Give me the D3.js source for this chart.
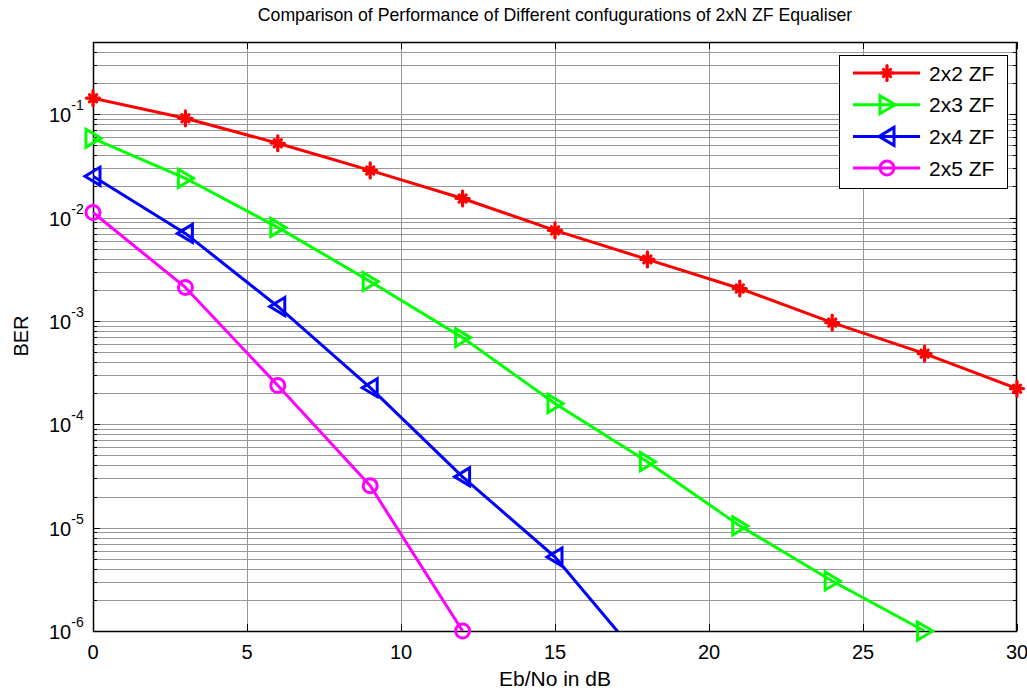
<!DOCTYPE html>
<html>
<head>
<meta charset="utf-8">
<script src="https://cdn.jsdelivr.net/npm/d3@7"></script>
<style>
  html, body { margin: 0; padding: 0; background: #fff; }
  svg { display: block; font-family: Arial, "Liberation Sans", Helvetica, sans-serif; }
</style>
</head>
<body>
<svg id="chart" width="1027" height="691"></svg>
<script>
// Eb/No sweep (dB)
const ebno = [0, 3, 6, 9, 12, 15, 18, 21, 24, 27, 30];

// Simulated bit error rates for each 2xN zero-forcing configuration (0 = no errors counted)
const ber2x2 = [0.143, 0.0914, 0.0524, 0.0286, 0.0153, 0.00752, 0.00394, 0.00206, 0.000964, 0.000483, 0.000221];
const ber2x3 = [0.0585, 0.0240, 0.00804, 0.00241, 0.00069, 0.000159, 4.35e-5, 1.04e-5, 3.05e-6, 1.0e-6, 0];
const ber2x4 = [0.0251, 0.00703, 0.00138, 0.000226, 3.10e-5, 5.2e-6, 4.5e-7, 0, 0, 0, 0];
const ber2x5 = [0.0112, 0.00211, 0.000237, 2.54e-5, 1.0e-6, 0, 0, 0, 0, 0, 0];

const seriesNames = ["2x2 ZF", "2x3 ZF", "2x4 ZF", "2x5 ZF"];
const seriesColors = ["#ff0000", "#00ff00", "#0000ff", "#ff00ff"];
const seriesMarkers = ["star", "triRight", "triLeft", "circle"];

// Axis settings
const xTicks = [0, 5, 10, 15, 20, 25, 30];
const yTickExps = [-6, -5, -4, -3, -2, -1];
const xDomain = [0, 30];
const yDomain = [1e-6, 0.5];

const titleText = "Comparison of Performance of Different confugurations of 2xN ZF Equaliser";
const xLabelText = "Eb/No in dB";
const yLabelText = "BER";

const svg = d3.select("#chart");
const m = { left: 93, right: 1017, top: 42, bottom: 631 };

const x = d3.scaleLinear().domain(xDomain).range([m.left, m.right]);
const y = d3.scaleLog().domain(yDomain).range([m.bottom, m.top]);

// Grid: minor + major log lines horizontally, major lines vertically
const gridVals = [];
for (let e = -6; e <= 0; e++) {
  for (let k = 1; k <= 9; k++) {
    const v = k * Math.pow(10, e);
    if (v >= yDomain[0] * 0.999 && v <= yDomain[1] * 1.001) gridVals.push({ v, major: k === 1 });
  }
}
const gridColor = "#979797";
const grid = svg.append("g").attr("class", "grid");
grid.selectAll("line.h").data(gridVals).join("line")
  .attr("class", "h")
  .attr("x1", m.left).attr("x2", m.right)
  .attr("y1", d => Math.round(y(d.v)) + 0.5).attr("y2", d => Math.round(y(d.v)) + 0.5)
  .attr("stroke", gridColor).attr("stroke-width", 1);
grid.selectAll("line.v").data(xTicks.slice(1, -1)).join("line")
  .attr("class", "v")
  .attr("x1", d => Math.round(x(d)) + 0.5).attr("x2", d => Math.round(x(d)) + 0.5)
  .attr("y1", m.top).attr("y2", m.bottom)
  .attr("stroke", gridColor).attr("stroke-width", 1);

// Tick marks on all four sides (inward)
const ticks = svg.append("g").attr("stroke", "#000").attr("stroke-width", 1);
gridVals.forEach(d => {
  const yy = Math.round(y(d.v)) + 0.5;
  const len = d.major ? 7 : 4;
  ticks.append("line").attr("x1", m.left).attr("x2", m.left + len).attr("y1", yy).attr("y2", yy);
  ticks.append("line").attr("x1", m.right - len).attr("x2", m.right).attr("y1", yy).attr("y2", yy);
});
xTicks.forEach(t => {
  const xx = Math.round(x(t)) + 0.5;
  ticks.append("line").attr("x1", xx).attr("x2", xx).attr("y1", m.bottom).attr("y2", m.bottom - 7);
  ticks.append("line").attr("x1", xx).attr("x2", xx).attr("y1", m.top).attr("y2", m.top + 7);
});

// Plot frame
svg.append("rect")
  .attr("x", m.left + 0.5).attr("y", m.top + 0.5)
  .attr("width", m.right - m.left - 1).attr("height", m.bottom - m.top)
  .attr("fill", "none").attr("stroke", "#000").attr("stroke-width", 1.5);

// X tick labels
svg.append("g").selectAll("text").data(xTicks).join("text")
  .attr("x", d => x(d)).attr("y", 659)
  .attr("text-anchor", "middle").attr("font-size", 20).attr("fill", "#000")
  .text(d => d);

// Y tick labels as 10^e
const yl = svg.append("g").selectAll("text").data(yTickExps).join("text")
  .attr("x", 49).attr("y", d => y(Math.pow(10, d)) + 8)
  .attr("text-anchor", "start").attr("font-size", 20).attr("fill", "#000");
yl.append("tspan").text("10");
yl.append("tspan").attr("dy", -12).attr("font-size", 14).text(d => String(d));

// Title and axis labels
svg.append("text").attr("x", (m.left + m.right) / 2).attr("y", 21)
  .attr("text-anchor", "middle").attr("font-size", 17.7).text(titleText);
svg.append("text").attr("x", (m.left + m.right) / 2).attr("y", 686)
  .attr("text-anchor", "middle").attr("font-size", 21).text(xLabelText);
svg.append("text").attr("transform", "translate(28,336) rotate(-90)")
  .attr("text-anchor", "middle").attr("font-size", 20).text(yLabelText);

// Clip region for the curves
svg.append("clipPath").attr("id", "plotClip").append("rect")
  .attr("x", m.left).attr("y", m.top).attr("width", m.right - m.left).attr("height", m.bottom - m.top);

const allSeries = [ber2x2, ber2x3, ber2x4, ber2x5].map((vals, i) => ({
  name: seriesNames[i], color: seriesColors[i], marker: seriesMarkers[i],
  pts: ebno.map((e, j) => ({ x: e, v: vals[j] }))
}));

const line = d3.line().defined(d => d.v > 0).x(d => x(d.x)).y(d => y(d.v));

function drawMarker(g, type, cx, cy, color) {
  if (type === "star") {
    const r = 6.5;
    const s = g.append("g").attr("stroke", color).attr("stroke-width", 3.2).attr("stroke-linecap", "round");
    s.append("line").attr("x1", cx - r).attr("x2", cx + r).attr("y1", cy).attr("y2", cy);
    s.append("line").attr("x1", cx).attr("x2", cx).attr("y1", cy - r - 1).attr("y2", cy + r + 1);
    const q = r * 0.55;
    s.append("line").attr("x1", cx - q).attr("x2", cx + q).attr("y1", cy - q).attr("y2", cy + q);
    s.append("line").attr("x1", cx - q).attr("x2", cx + q).attr("y1", cy + q).attr("y2", cy - q);
    s.append("circle").attr("cx", cx).attr("cy", cy).attr("r", 3).attr("fill", color).attr("stroke", "none");
  } else if (type === "triRight") {
    g.append("path").attr("d", `M${cx - 7},${cy - 9}L${cx + 8},${cy}L${cx - 7},${cy + 9}Z`)
      .attr("fill", "none").attr("stroke", color).attr("stroke-width", 3);
  } else if (type === "triLeft") {
    g.append("path").attr("d", `M${cx + 7},${cy - 9}L${cx - 8},${cy}L${cx + 7},${cy + 9}Z`)
      .attr("fill", "none").attr("stroke", color).attr("stroke-width", 3);
  } else if (type === "circle") {
    g.append("circle").attr("cx", cx).attr("cy", cy).attr("r", 7)
      .attr("fill", "none").attr("stroke", color).attr("stroke-width", 3);
  }
}

const curves = svg.append("g");
allSeries.forEach(s => {
  curves.append("path").datum(s.pts)
    .attr("clip-path", "url(#plotClip)")
    .attr("d", line).attr("fill", "none")
    .attr("stroke", s.color).attr("stroke-width", 3).attr("stroke-linejoin", "round");
});
allSeries.forEach(s => {
  const g = curves.append("g");
  s.pts.filter(d => d.v >= yDomain[0] * 0.999 && d.v <= yDomain[1]).forEach(d => {
    drawMarker(g, s.marker, x(d.x), y(d.v), s.color);
  });
});

// Legend
const lg = svg.append("g");
lg.append("rect").attr("x", 839.5).attr("y", 55.5).attr("width", 168).attr("height", 133)
  .attr("fill", "#fff").attr("stroke", "#000").attr("stroke-width", 1);
allSeries.forEach((s, i) => {
  const yy = 73 + i * 31.7;
  lg.append("line").attr("x1", 853).attr("x2", 920).attr("y1", yy).attr("y2", yy)
    .attr("stroke", s.color).attr("stroke-width", 3);
  drawMarker(lg, s.marker, 887, yy, s.color);
  lg.append("text").attr("x", 929).attr("y", yy + 7.5).attr("font-size", 21).text(s.name);
});
</script>
</body>
</html>
